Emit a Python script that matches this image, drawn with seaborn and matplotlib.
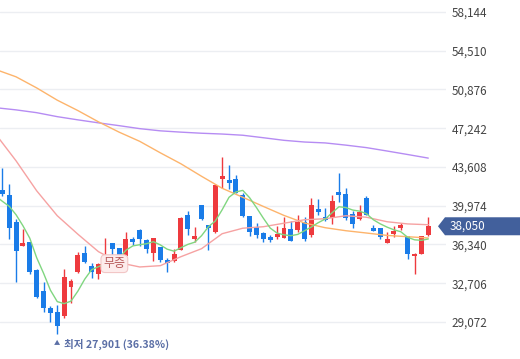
import numpy as np
import pandas as pd
import matplotlib
matplotlib.use("Agg")
import matplotlib.pyplot as plt
import seaborn as sns
from matplotlib.patches import Polygon

# ---- data (daily candles) ----
opens = [41473, 41004, 38475, 36228, 36550, 33980, 32013, 30421, 30046, 29671,
         32388, 33727, 35572, 34354, 33605, 34542, 36450, 36000, 35291, 36883,
         37726, 36790, 35572, 36100, 34916, 34823, 35853, 39131, 36883, 40030,
         38150, 37539, 42503, 42409, 42503, 41004, 39000, 38007, 37445, 37071,
         37071, 36977, 37820, 37726, 38475, 37258, 39693, 38944, 38850, 41285,
         41098, 39225, 38756, 40723, 37914, 37880, 36509, 37352, 37914, 37130,
         35226, 35478, 37258]
highs = [43533, 42035, 38756, 37820, 36602, 34073, 32856, 30608, 30702, 34073,
         33137, 35666, 36228, 34635, 34635, 36977, 36509, 36040, 37539, 37071,
         37820, 36883, 36977, 36134, 35104, 35947, 38944, 39506, 38007, 40068,
         38194, 42035, 44563, 43814, 42877, 41192, 39037, 38382, 37539, 37258,
         38101, 38944, 38569, 39131, 38944, 40723, 40630, 39787, 41004, 43065,
         41660, 39506, 40068, 40911, 38194, 37914, 37539, 38101, 38382, 37164,
         35572, 37164, 38944]
lows = [40911, 36883, 32856, 36200, 33605, 31357, 30046, 29109, 27901, 29484,
        30889, 33698, 34635, 33231, 33137, 34448, 35385, 35197, 35250, 36321,
        36228, 35572, 34823, 34729, 33792, 34729, 35800, 37258, 36602, 38663,
        35853, 37445, 41660, 41566, 41150, 38944, 37164, 36977, 36602, 36602,
        36883, 36930, 36650, 37539, 36696, 37071, 39131, 38569, 38288, 40349,
        38663, 37914, 38663, 39100, 37600, 36883, 36480, 37071, 37726, 35010,
        33577, 35450, 37164]
closes = [41098, 37914, 35759, 36509, 33792, 31451, 30421, 29952, 28735, 33324,
          32950, 35385, 34729, 33792, 34542, 35104, 35947, 35385, 36883, 36602,
          36883, 35947, 36930, 34850, 34635, 35478, 38850, 37820, 37164, 38756,
          37914, 41941, 42784, 42128, 41192, 39037, 37539, 37258, 36883, 36790,
          37352, 37914, 36696, 38475, 36883, 40068, 39412, 38663, 40442, 41004,
          38850, 38288, 39412, 39131, 37633, 37071, 36883, 37633, 38194, 35478,
          35450, 37130, 38050]

# moving averages (day index 0 = day before first visible candle)
ma5 = [40911, 40396, 39927, 39131, 38101, 36930, 35104, 33652, 32060, 30983,
       30795, 31030, 31966, 33090, 33980, 34261, 34542, 34823, 35057, 35806,
       36209, 36321, 36415, 36602, 36302, 35900, 35713, 36040, 36349, 36555,
       37164, 38007, 38541, 39599, 40770, 41267, 41416, 40723, 39796, 38803,
       37876, 37408, 37249, 37164, 37286, 37633, 37988, 38391, 38728, 39318,
       39880, 39806, 39571, 39468, 39234, 38663, 38279, 37970, 37717, 37539,
       37014, 36780, 36733, 36855]
ma_long_days = [0, 3, 6, 9, 12, 15, 18, 21, 24, 27, 30, 33, 36, 39, 42, 45, 48,
                51, 54, 57, 60, 63]
ma20 = [46718, 44189, 41379, 39037, 37305, 35666, 34635, 34233, 34354, 35197,
        35947, 37352, 37867, 38007, 38336, 38663, 38756, 39037, 38897, 38475,
        38269, 38194]
ma60 = [52759, 52066, 51026, 49874, 48900, 47841, 46877, 46015, 44938, 43908,
        42737, 41613, 40770, 39908, 39066, 38354, 37914, 37633, 37417, 37192,
        37071, 36949]
ma120 = [49172, 48965, 48703, 48329, 48029, 47748, 47485, 47205, 46999, 46877,
         46774, 46699, 46586, 46352, 46109, 45950, 45865, 45659, 45425, 45107,
         44779, 44442]

price_ticks = [29072, 32706, 36340, 39974, 43608, 47242, 50876, 54510, 58144]
last_price = 38050
low_label = "최저 27,901 (36.38%)"
low_day = 9
event_label = "무증"
event_day = 16

RED = "#ee3a3e"
BLUE = "#1a7ce8"

# ---- plotting ----
sns.set_theme(style="white")
plt.rcParams['font.family'] = ['Noto Sans CJK KR', 'DejaVu Sans']

W, H = 520, 359
fig = plt.figure(figsize=(W / 100, H / 100), dpi=100)
ax = fig.add_axes([0, 0, 446 / W, 1])

o = np.array(opens); h = np.array(highs); l = np.array(lows); c = np.array(closes)
days = np.arange(1, len(o) + 1)
cols = np.where(c >= o, RED, BLUE)

ax.vlines(days, l, h, colors=cols, lw=1.0, zorder=2)
ax.bar(days, np.abs(c - o), bottom=np.minimum(o, c), width=0.72,
       color=cols, linewidth=0, zorder=2)

df5 = pd.DataFrame({"day": np.arange(len(ma5)), "v": ma5})
dfl = pd.DataFrame({"day": ma_long_days, "ma20": ma20, "ma60": ma60, "ma120": ma120})
sns.lineplot(data=dfl, x="day", y="ma120", color="#b68cf3", lw=1.0, ax=ax, zorder=3)
sns.lineplot(data=dfl, x="day", y="ma60", color="#fdb46c", lw=1.0, ax=ax, zorder=3)
sns.lineplot(data=dfl, x="day", y="ma20", color="#f6a2a2", lw=1.0, ax=ax, zorder=3)
sns.lineplot(data=df5, x="day", y="v", color="#80d680", lw=1.0, ax=ax, zorder=3)

ymax, ymin = 59269, 25602
ax.set_ylim(ymin, ymax)
ax.set_xlim(0.665, 65.58)
ax.set_xlabel(""); ax.set_ylabel("")
ax.set_xticks([])
ax.set_yticks(price_ticks)
ax.set_yticklabels([f"{t:,}" for t in price_ticks])
ax.yaxis.tick_right()
ax.tick_params(axis='y', length=0, pad=4, labelsize=8.4, labelcolor="#444444")
ax.yaxis.grid(True, color="#eceef2", lw=1)
ax.set_axisbelow(True)
for s in ax.spines.values():
    s.set_visible(False)

# low label
ax.annotate("▲", xy=(low_day, lows[low_day - 1]), xytext=(0, -8.5),
            textcoords="offset pixels", ha="center", va="center",
            fontsize=4.5, color="#5b6fa6", zorder=6)
ax.annotate(low_label, xy=(low_day, lows[low_day - 1]), xytext=(7, -10),
            textcoords="offset pixels", ha="left", va="center",
            fontsize=7.6, fontweight="semibold", color="#5b6fa6", zorder=6,
            annotation_clip=False)

# event label
ax.annotate(event_label, xy=(event_day, lows[event_day - 1]), xytext=(9, 1),
            textcoords="offset pixels", ha="center", va="center",
            fontsize=8.6, color="#b85c5c", zorder=6,
            bbox=dict(boxstyle="round,pad=0.2,rounding_size=0.35",
                      fc="#fdecec", ec="#f2c6c6", lw=0.8))

# last price tag
f = (last_price - ymin) / (ymax - ymin)
hh = 9 / H
tag = Polygon([(438 / W, f), (445 / W, f + hh), (1.0, f + hh), (1.0, f - hh), (445 / W, f - hh)],
              closed=True, transform=fig.transFigure, fc="#42609c", ec="none", zorder=10)
fig.add_artist(tag)
fig.text(450 / W, f, f"{last_price:,}", color="white", ha="left", va="center",
         fontsize=8.4, zorder=11)

fig.savefig("out.png", dpi=100)
